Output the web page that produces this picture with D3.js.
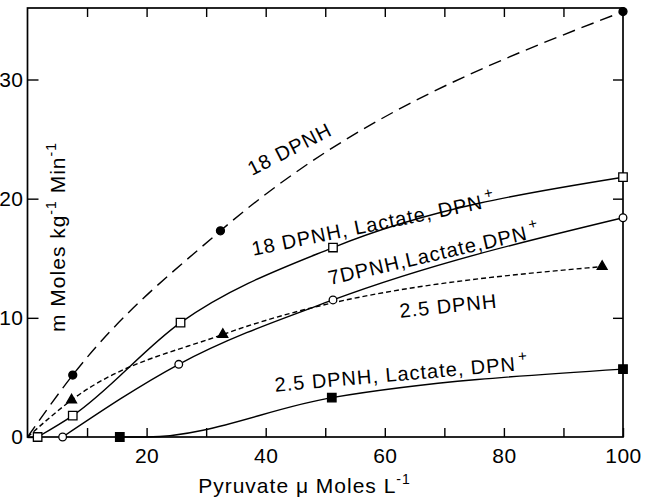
<!DOCTYPE html>
<html>
<head>
<meta charset="utf-8">
<script src="https://cdn.jsdelivr.net/npm/d3@7"></script>
<style>
  body { margin: 0; background: #fff; }
  text { font-family: "Liberation Sans", Arial, sans-serif; fill: #000; }
</style>
</head>
<body>
<div id="chart"></div>
<script>
let svgWidth = 650;
let svgHeight = 498;

let margin = {
    top: 8,
    right: 27,
    bottom: 61,
    left: 27.5
};

let width = svgWidth - margin.left - margin.right
let height = svgHeight - margin.top - margin.bottom

// Axis ticks
let xLabels = [20, 40, 60, 80, 100];
let xMinor = [10, 20, 30, 40, 50, 60, 70, 80, 90];
let yLabels = [0, 10, 20, 30];

// Values (pyruvate, rate)
let dpnh18X = [7.6, 32.4, 100];
let dpnh18Y = [5.2, 17.3, 35.7];
let lac18X = [1.7, 7.6, 25.7, 51.3, 100];
let lac18Y = [0, 1.8, 9.6, 15.9, 21.8];
let lac7X = [5.9, 25.4, 51.3, 100];
let lac7Y = [0, 6.1, 11.5, 18.4];
let dpnh25X = [7.4, 32.8, 96.5];
let dpnh25Y = [3.1, 8.6, 14.3];
let lac25X = [15.5, 51.1, 100];
let lac25Y = [0, 3.3, 5.7];

// where a drawn curve leaves the axis without a marker
let dpnh18Start = [0, 0];
let dpnh25Start = [0, 0];
let lac25Start = [20, 0];

let zip = (xs, ys) => xs.map((v, i) => [v, ys[i]]);

let series = [
    {pts: zip(dpnh18X, dpnh18Y), extra: [dpnh18Start], dash: "13,7", sym: d3.symbolCircle, size: 50, fill: "#000"},
    {pts: zip(lac18X, lac18Y), extra: [], dash: null, sym: d3.symbolSquare, size: 72, fill: "#fff"},
    {pts: zip(lac7X, lac7Y), extra: [], dash: null, sym: d3.symbolCircle, size: 46, fill: "#fff"},
    {pts: zip(dpnh25X, dpnh25Y), extra: [dpnh25Start], dash: "5,3", sym: d3.symbolTriangle, size: 42, fill: "#000"},
    {pts: zip(lac25X, lac25Y), extra: [lac25Start], dash: null, sym: d3.symbolSquare, size: 72, fill: "#000"}
];

let svg = d3.select("#chart")
            .append("svg")
            .attr("width", svgWidth)
            .attr("height", svgHeight);

let chartGroup = svg.append("g")
                    .attr("transform", `translate(${margin.left}, ${margin.top})`);

let xScale = d3.scaleLinear().domain([0, 100]).range([0, width]);
let yScale = d3.scaleLinear().domain([0, 36]).range([height, 0]);

let tickFont = g => g.attr("font-family", "'Liberation Sans', Arial, sans-serif")
                     .attr("font-size", 21);

// Bottom axis: ticks inside, labels at every 20
let bottomAxis = chartGroup.append("g")
        .attr("transform", `translate(0, ${height})`)
        .call(d3.axisBottom(xScale)
            .tickValues(xMinor.concat([100]))
            .tickSize(-9)
            .tickPadding(11)
            .tickFormat(d => xLabels.includes(d) ? d : ""))
        .call(tickFont);
bottomAxis.select(".domain").remove();
bottomAxis.selectAll("line").attr("stroke-width", 1.4);
bottomAxis.selectAll("text").attr("letter-spacing", 0.5);

let topAxis = chartGroup.append("g")
        .call(d3.axisTop(xScale).tickValues(xMinor).tickSize(-9).tickFormat(""));
topAxis.select(".domain").remove();
topAxis.selectAll("line").attr("stroke-width", 1.4);

let leftAxis = chartGroup.append("g")
        .call(d3.axisLeft(yScale).tickValues(yLabels).tickSize(-11).tickPadding(4))
        .call(tickFont);
leftAxis.select(".domain").remove();
leftAxis.selectAll("line").attr("stroke-width", 1.4);
leftAxis.selectAll("text").attr("letter-spacing", 0.5);

let rightAxis = chartGroup.append("g")
        .attr("transform", `translate(${width}, 0)`)
        .call(d3.axisRight(yScale).tickValues(yLabels.slice(1)).tickSize(-10).tickFormat(""));
rightAxis.select(".domain").remove();
rightAxis.selectAll("line").attr("stroke-width", 1.4);

// Frame
chartGroup.append("rect")
        .attr("width", width)
        .attr("height", height)
        .attr("fill", "none")
        .attr("stroke", "#000")
        .attr("stroke-width", 1.7);

// Curves
let line = d3.line()
        .x(d => xScale(d[0]))
        .y(d => yScale(d[1]))
        .curve(d3.curveMonotoneX);

series.forEach(s => {
    let pts = s.pts.concat(s.extra).sort((a, b) => a[0] - b[0]);
    chartGroup.append("path")
        .attr("d", line(pts))
        .attr("fill", "none")
        .attr("stroke", "#000")
        .attr("stroke-width", 1.4)
        .attr("stroke-dasharray", s.dash);
});

// Markers
series.forEach(s => {
    chartGroup.selectAll(null)
        .data(s.pts)
        .enter()
        .append("path")
        .attr("transform", d => `translate(${xScale(d[0])}, ${yScale(d[1])})`)
        .attr("d", d3.symbol().type(s.sym).size(s.size))
        .attr("fill", s.fill)
        .attr("stroke", "#000")
        .attr("stroke-width", 1.3);
});

// Curve labels (baseline start in data units, angle in degrees)
let labels = [
    {x: 37.7, y: 21.9, a: -27, text: "18 DPNH", sup: ""},
    {x: 37.9, y: 15.2, a: -11.6, text: "18 DPNH, Lactate, DPN", sup: "+"},
    {x: 50.8, y: 12.75, a: -13, text: "7DPNH,Lactate,DPN", sup: "+"},
    {x: 62.6, y: 10.0, a: -6, text: "2.5 DPNH", sup: ""},
    {x: 41.6, y: 3.8, a: -5, text: "2.5 DPNH, Lactate, DPN", sup: "+"}
];

labels.forEach(l => {
    let t = chartGroup.append("text")
        .attr("transform", `translate(${xScale(l.x)}, ${yScale(l.y)}) rotate(${l.a})`)
        .attr("font-size", 20)
        .attr("letter-spacing", 1);
    t.append("tspan").text(l.text);
    if (l.sup) {
        t.append("tspan").attr("dx", 3).attr("dy", -9).attr("font-size", 15).text(l.sup);
    }
});

// Axis titles
let xTitle = chartGroup.append("text")
        .attr("x", 277)
        .attr("y", height + 56)
        .attr("text-anchor", "middle")
        .attr("font-size", 21)
        .attr("letter-spacing", 1);
xTitle.append("tspan").text("Pyruvate \u03bc Moles L");
xTitle.append("tspan").attr("dy", -9).attr("font-size", 14).text("-1");

let yTitle = chartGroup.append("text")
        .attr("transform", `translate(${65 - margin.left}, ${237 - margin.top}) rotate(-90)`)
        .attr("text-anchor", "middle")
        .attr("font-size", 21)
        .attr("letter-spacing", 1);
yTitle.append("tspan").text("m Moles kg");
yTitle.append("tspan").attr("dy", -9).attr("font-size", 14).text("-1");
yTitle.append("tspan").attr("dy", 9).text(" Min");
yTitle.append("tspan").attr("dy", -9).attr("font-size", 14).text("-1");
</script>
</body>
</html>
